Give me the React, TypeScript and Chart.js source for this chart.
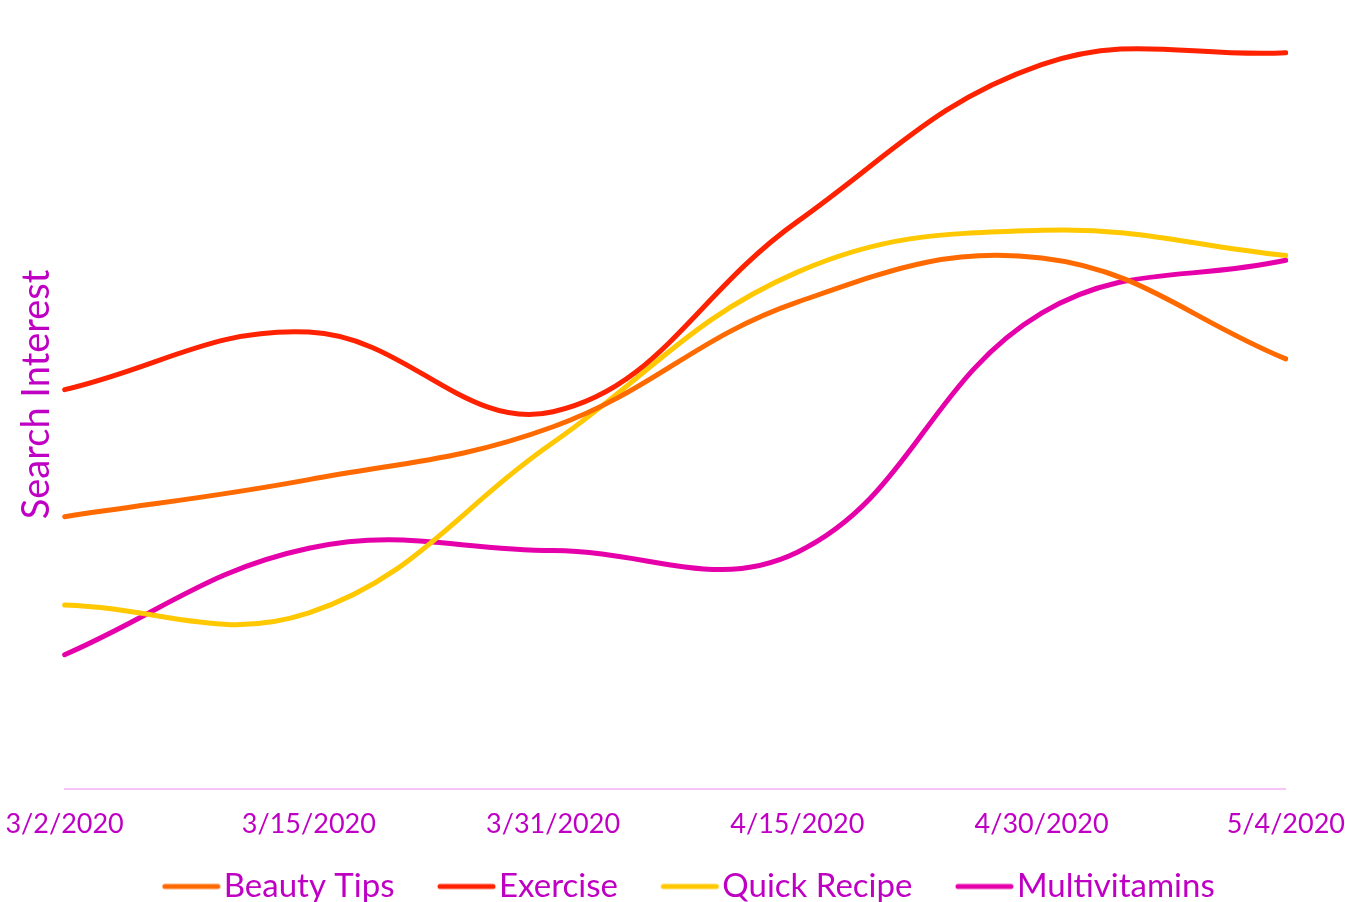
import React, { useEffect, useRef } from "react";
import { Chart, registerables } from "chart.js";

Chart.register(...registerables);

const categories = ["3/2/2020", "3/15/2020", "3/31/2020", "4/15/2020", "4/30/2020", "5/4/2020"];
const beautyTips = [34.5, 39.2, 45.9, 61.7, 67.3, 54.5];
const exercise = [50.6, 57.9, 47.8, 71.9, 91.8, 93.3];
const quickRecipe = [23.3, 22.3, 43.9, 65.5, 70.8, 67.6];
const multivitamins = [17.0, 30.5, 30.2, 30.0, 60.3, 67.0];

const TEXT = "#BF00C4";
const FONT = "Lato, 'Noto Sans', sans-serif";

function legendIcon(color: string): HTMLCanvasElement {
  const c = document.createElement("canvas");
  c.width = 140;
  c.height = 10;
  const ctx = c.getContext("2d")!;
  ctx.strokeStyle = color;
  ctx.lineWidth = 5;
  ctx.lineCap = "round";
  ctx.beginPath();
  ctx.moveTo(66, 5);
  ctx.lineTo(119, 5);
  ctx.stroke();
  return c;
}

export default function App() {
  const ref = useRef<HTMLCanvasElement | null>(null);
  useEffect(() => {
    if (!ref.current) return;
    const series = [
      { label: "Beauty Tips", data: beautyTips, color: "#FF6A00" },
      { label: "Exercise", data: exercise, color: "#FF2200" },
      { label: "Quick Recipe", data: quickRecipe, color: "#FFC800" },
      { label: "Multivitamins", data: multivitamins, color: "#E600AA" },
    ];
    const chart = new Chart(ref.current, {
      type: "line",
      data: {
        labels: categories,
        datasets: series.map((s) => ({
          label: s.label,
          data: s.data,
          borderColor: s.color,
          backgroundColor: s.color,
          borderWidth: 5,
          pointRadius: 0,
          pointHoverRadius: 0,
          tension: 0.4,
          borderCapStyle: "round" as const,
          pointStyle: legendIcon(s.color),
          fill: false,
        })),
      },
      options: {
        responsive: false,
        animation: false,
        layout: { padding: 0 },
        plugins: {
          tooltip: { enabled: false },
          legend: {
            position: "bottom",
            labels: {
              usePointStyle: true,
              pointStyleWidth: 77,
              color: TEXT,
              font: { family: FONT, size: 33 },
              padding: 11,
            },
          },
        },
        scales: {
          x: {
            offset: false,
            grid: { display: false, drawTicks: false },
            border: { display: true, color: "#F6C4F6", width: 2 },
            ticks: {
              color: TEXT,
              font: { family: FONT, size: 27, lineHeight: 2.6 },
              padding: 0,
              maxRotation: 0,
              autoSkip: false,
            },
          },
          y: {
            min: 0,
            max: 100,
            grid: { display: false, drawTicks: false },
            border: { display: false },
            ticks: { display: false },
            title: {
              display: true,
              text: "Search Interest",
              color: TEXT,
              font: { family: FONT, size: 38, lineHeight: 1.2 },
              padding: { top: 14, bottom: 5 },
            },
          },
        },
      },
    });
    return () => chart.destroy();
  }, []);
  return (
    <div style={{ position: "fixed", left: 0, top: 0, width: 1345, height: 902, overflow: "hidden" }}>
      <canvas ref={ref} width={1345} height={913} style={{ display: "block" }} />
    </div>
  );
}
